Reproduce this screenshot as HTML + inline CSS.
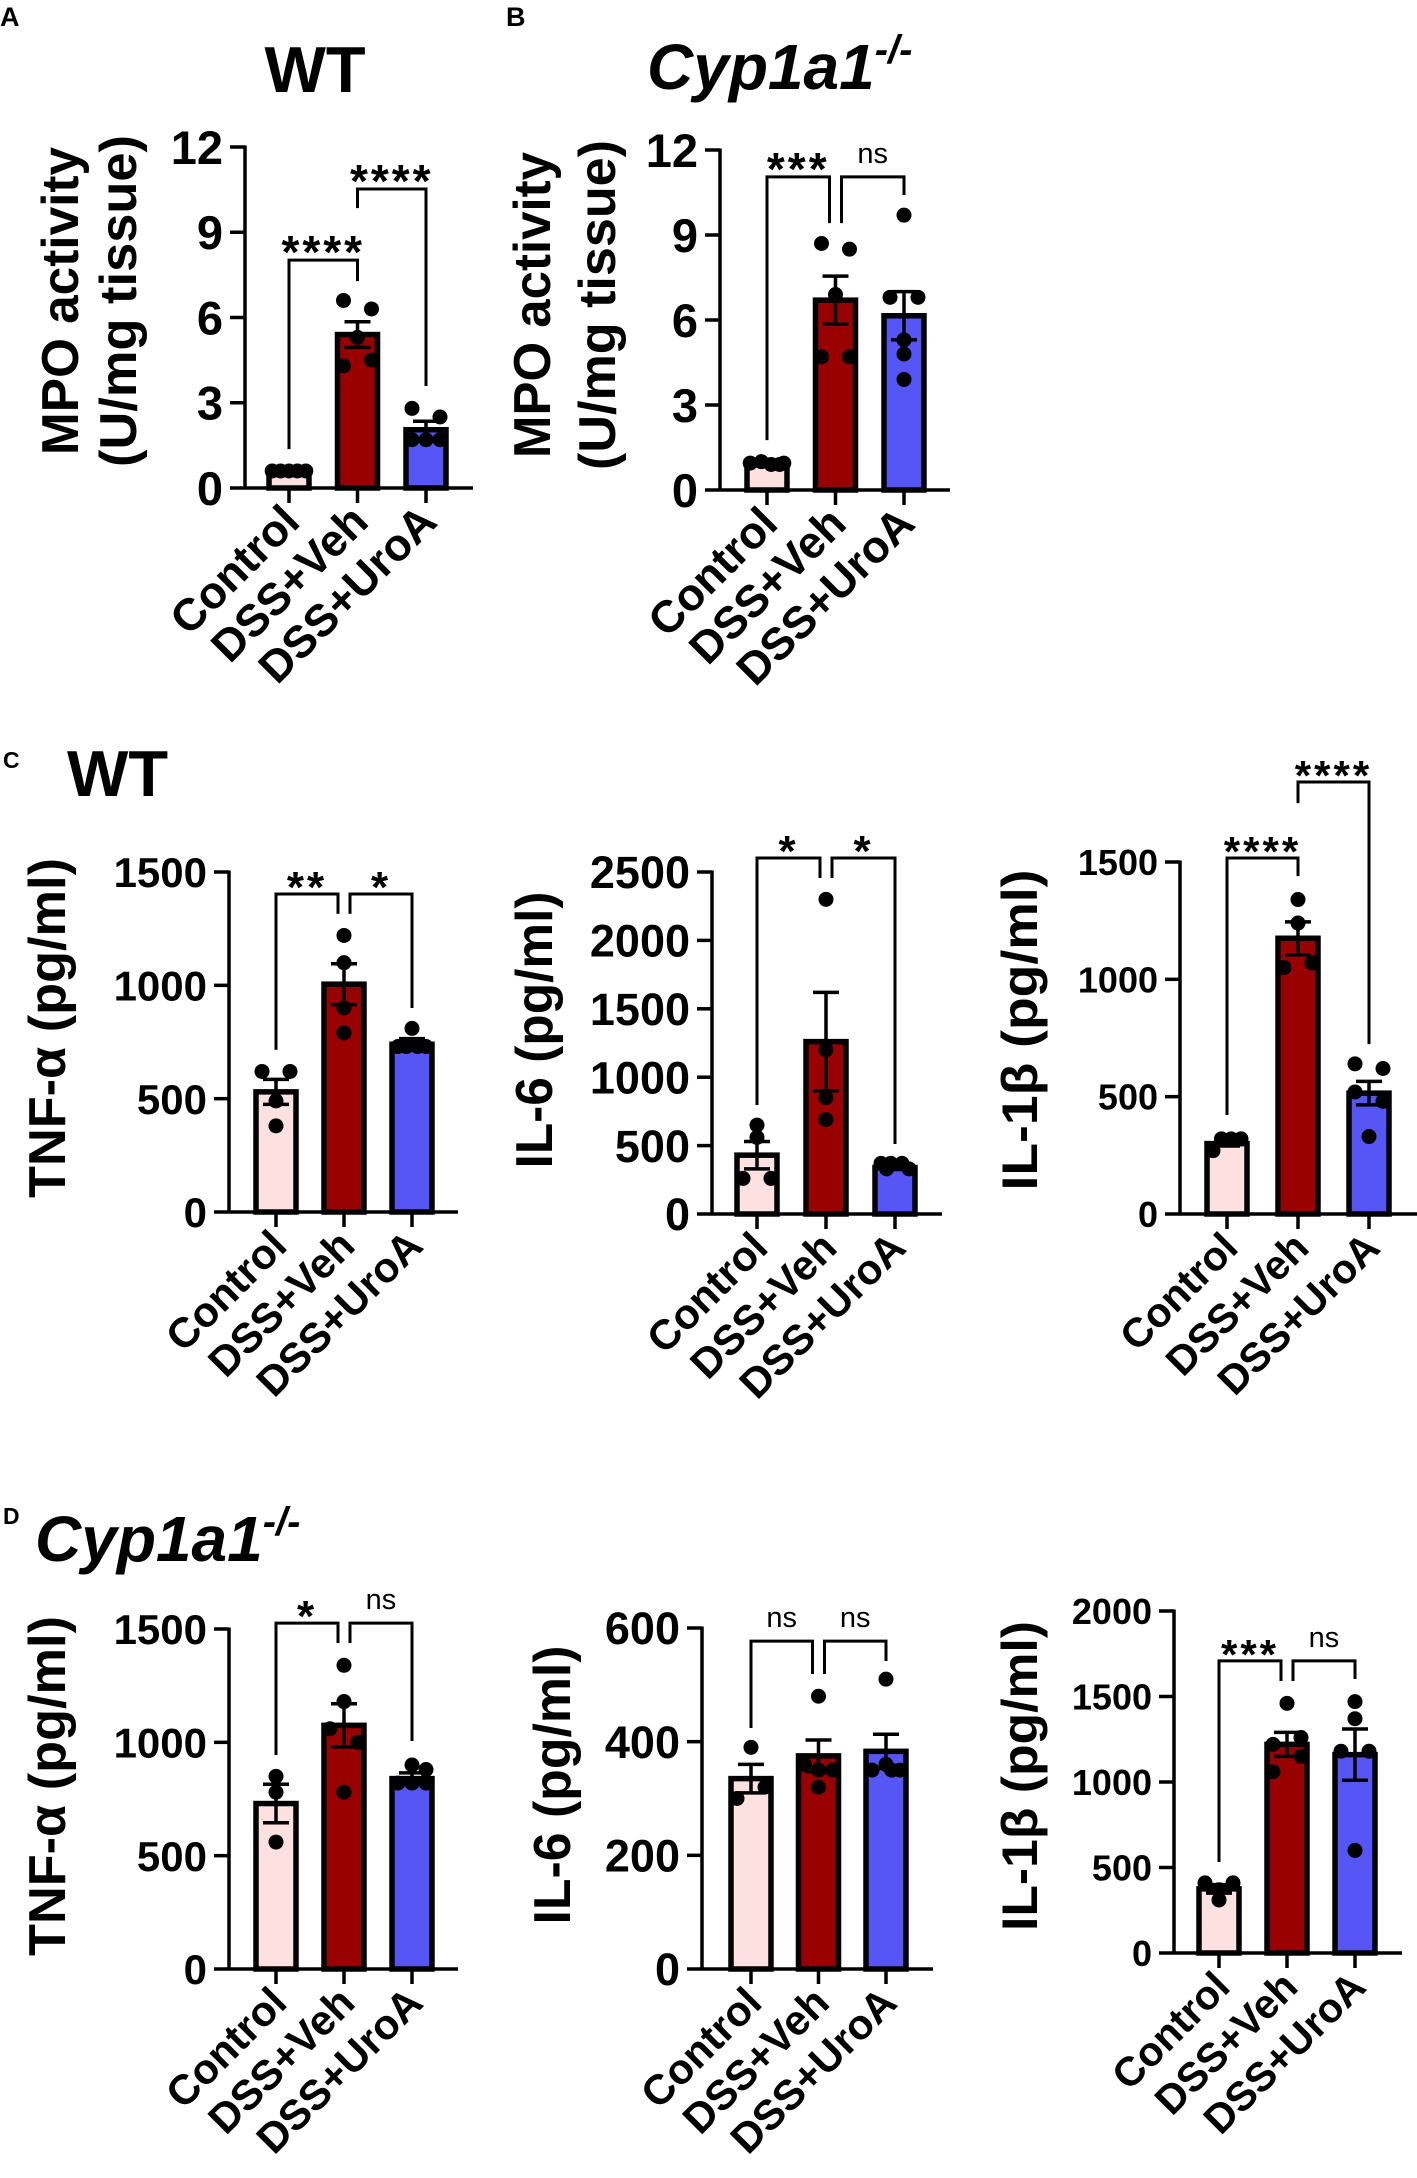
<!DOCTYPE html>
<html><head><meta charset="utf-8"><style>
html,body{margin:0;padding:0;background:#fff}
svg{display:block}
text{font-family:"Liberation Sans",Arial,sans-serif;fill:#000}
</style></head><body>
<svg id="fig" width="1417" height="2178" viewBox="0 0 1417 2178" xmlns="http://www.w3.org/2000/svg">
<text x="0" y="26" font-size="27" font-weight="bold">A</text>
<text x="506" y="26" font-size="27" font-weight="bold">B</text>
<text x="3" y="768" font-size="23" font-weight="bold">C</text>
<text x="3" y="1524" font-size="23" font-weight="bold">D</text>
<text x="315" y="92" font-size="65" font-weight="bold" text-anchor="middle">WT</text>
<text x="647" y="89" font-size="64" font-weight="bold" font-style="italic">Cyp1a1<tspan font-size="40" dy="-26">-/-</tspan></text>
<text x="67" y="796" font-size="65" font-weight="bold">WT</text>
<text x="35" y="1561" font-size="64" font-weight="bold" font-style="italic">Cyp1a1<tspan font-size="40" dy="-26">-/-</tspan></text>
</svg>
<script>
const cats = ["Control", "DSS+Veh", "DSS+UroA"];
const colors = ["#fde0e0", "#990000", "#5656f6"];

// Panel A: WT MPO
const aTicks = [0, 3, 6, 9, 12];
const aMean = [0.6, 5.4, 2.05];
const aSem = [0.05, 0.45, 0.3];
const aDots = [[0.6,0.6,0.6,0.6,0.6],[6.6,6.3,5.3,4.3,4.5],[2.8,2.5,1.7,1.7,1.7]];
const aSide = [[-1.2,-0.6,0,0.6,1.2],[-1,1,0,-1,1],[-1,1,-1,0,1]];
const aSig = [[0,1,8.02,1.37,7.28,"****"],[1,2,10.52,9.85,3.59,"****"]];

// Panel B: Cyp1a1-/- MPO
const bTicks = [0, 3, 6, 9, 12];
const bMean = [0.9, 6.7, 6.15];
const bSem = [0.05, 0.85, 0.85];
const bDots = [[0.95,1.0,0.9,0.9,0.95],[8.7,8.5,6.9,4.7,4.7],[9.7,6.8,6.8,5.3,4.8,3.9]];
const bSide = [[-1.2,-0.4,0.3,0.9,1.2],[-1,1,0,-1,1],[0,-1,1,0,0,0]];
const bSig = [[0,1,11.05,1.76,9.42,"***"],[1,2,11.05,9.42,10.41,"ns"]];

// Panel C1: WT TNF-a
const c1Ticks = [0, 500, 1000, 1500];
const c1Mean = [530, 1005, 740];
const c1Sem = [55, 90, 25];
const c1Dots = [[620,620,490,380],[1220,1100,900,790],[810,730,730,730,730]];
const c1Side = [[-1,1,0,0],[0,0,0,0],[0,-1,-0.4,0.4,1]];
const c1Sig = [[0,1,1403,715,1315,"**"],[1,2,1403,1315,900,"*"]];

// Panel C2: WT IL-6
const c2Ticks = [0, 500, 1000, 1500, 2000, 2500];
const c2Mean = [430, 1260, 340];
const c2Sem = [100, 360, 15];
const c2Dots = [[650,560,260,260],[2300,1200,850,690],[370,370,370,330,330]];
const c2Side = [[0,0,-1,1],[0,0,0,0],[-1,-0.3,0.5,-0.6,1]];
const c2Sig = [[0,1,2602,797,2456,"*"],[1,2,2602,2456,512,"*"]];

// Panel C3: WT IL-1b
const c3Ticks = [0, 500, 1000, 1500];
const c3Mean = [300, 1175, 515];
const c3Sem = [10, 70, 50];
const c3Dots = [[320,320,320,270],[1340,1240,1050,1070],[640,620,520,480,330]];
const c3Side = [[-0.4,0.3,1,-1],[0,0,-1,1],[-1,1,-1,1,0]];
const c3Sig = [[0,1,1517,422,1440,"****"],[1,2,1841,1751,724,"****"]];

// Panel D1: Cyp1a1-/- TNF-a
const d1Ticks = [0, 500, 1000, 1500];
const d1Mean = [730, 1075, 840];
const d1Sem = [85, 95, 25];
const d1Dots = [[850,780,560],[1340,1180,1060,1000,780],[900,880,820,820,820]];
const d1Side = [[0,0,0],[0,0,-1,1,0],[0,1,-1,0,1]];
const d1Sig = [[0,1,1526,944,1438,"*"],[1,2,1526,1438,1006,"ns"]];

// Panel D2: Cyp1a1-/- IL-6
const d2Ticks = [0, 200, 400, 600];
const d2Mean = [335, 375, 383];
const d2Sem = [25, 28, 30];
const d2Dots = [[390,320,300],[480,360,350,350,320],[510,360,350,350,350]];
const d2Side = [[0,1,-1],[0,-1,0,1,0],[0,0,-1,1,0.4]];
const d2Sig = [[0,1,577,424,519,"ns"],[1,2,577,519,542,"ns"]];

// Panel D3: Cyp1a1-/- IL-1b
const d3Ticks = [0, 500, 1000, 1500, 2000];
const d3Mean = [375, 1220, 1160];
const d3Sem = [25, 70, 150];
const d3Dots = [[410,410,370,310],[1460,1260,1220,1150,1060],[1470,1370,1180,1180,600]];
const d3Side = [[-1,1,0,0],[0,1,-1,1,-1],[0,0,-1,1,0]];
const d3Sig = [[0,1,1708,532,1591,"***"],[1,2,1708,1591,1602,"ns"]];

const NS = "http://www.w3.org/2000/svg";
const svg = document.getElementById("fig");
function el(tag, attrs, parent) {
  const e = document.createElementNS(NS, tag);
  for (const k in attrs) e.setAttribute(k, attrs[k]);
  (parent || svg).appendChild(e);
  return e;
}

function draw(id, L, ticks, mean, sem, dots, side, sig) {
  const g = el("g", {});
  
  
  const max = ticks[ticks.length - 1];
  const y = v => L.y0 - (v / max) * (L.y0 - L.yTop);
  const x = i => L.x0 + i * L.step;
  L.titles.forEach((t, k) => {
    const tt = el("text", {x: 0, y: 0, "font-size": L.titleFont, "font-weight": "bold", "text-anchor": "middle",
      transform: "translate(" + t[1] + "," + L.titleY + ") rotate(-90)", textLength: t[2], lengthAdjust: "spacingAndGlyphs"}, g);
    tt.textContent = t[0];
    
    
  });
  mean.forEach((m, i) => {
    const r = el("rect", {x: x(i) - 20, y: y(m), width: 40, height: L.y0 - y(m), fill: colors[i], stroke: "#000", "stroke-width": 5.5}, g);
    
    
  });
  dots.forEach((arr, i) => {
    arr.forEach((v, j) => {
      const c = el("circle", {cx: x(i) + side[i][j] * 14, cy: y(v), r: 7.5, fill: "#000"}, g);
      
      
    });
  });
  mean.forEach((m, i) => {
    const eg = el("g", {stroke: "#000", "stroke-width": 3.5}, g);
    
    
    el("line", {x1: x(i), x2: x(i), y1: y(m - sem[i]), y2: y(m + sem[i])}, eg);
    el("line", {x1: x(i) - 13, x2: x(i) + 13, y1: y(m + sem[i]), y2: y(m + sem[i])}, eg);
    el("line", {x1: x(i) - 13, x2: x(i) + 13, y1: y(m - sem[i]), y2: y(m - sem[i])}, eg);
  });
  const ya = el("g", {stroke: "#000", "stroke-width": 3.5}, g);
  
  
  el("line", {x1: L.ax, x2: L.ax, y1: L.yTop - 1.5, y2: L.y0}, ya);
  ticks.forEach(t => el("line", {x1: L.ax - 15, x2: L.ax, y1: y(t), y2: y(t)}, ya));
  ticks.forEach(t => {
    const tl = el("text", {x: L.ax - 22, y: y(t), dy: "0.36em", "font-size": L.tickFont, "font-weight": "bold", "text-anchor": "end"}, g);
    tl.textContent = t;
    
    
  });
  const xa = el("g", {stroke: "#000", "stroke-width": 3.5}, g);
  
  
  el("line", {x1: L.ax, x2: L.xEnd, y1: L.y0, y2: L.y0}, xa);
  mean.forEach((m, i) => el("line", {x1: x(i), x2: x(i), y1: L.y0, y2: L.y0 + 15}, xa));
  cats.forEach((c, i) => {
    const t = el("text", {x: 0, y: 0, "font-size": L.catFont, "font-weight": "bold", "text-anchor": "end",
      transform: "translate(" + (x(i) + 13) + "," + (L.y0 + 36) + ") rotate(-45)"}, g);
    t.textContent = c;
    
    
  });
  sig.forEach((s, k) => {
    const xl = x(s[0]) + (s[0] === 1 ? L.gap : 0);
    const xr = x(s[1]) - (s[1] === 1 ? L.gap : 0);
    const by = y(s[2]);
    const p = el("path", {d: "M" + xl + "," + y(s[3]) + "V" + by + "H" + xr + "V" + y(s[4]), fill: "none", stroke: "#000", "stroke-width": 3}, g);
    
    
    const isNs = s[5] === "ns";
    const t = el("text", {x: (xl + xr) / 2, y: isNs ? by - 14 : by + 8, "font-size": isNs ? 29 : L.starFont,
      "font-weight": isNs ? "normal" : "bold", "text-anchor": "middle", "letter-spacing": isNs ? 0 : 3}, g);
    t.textContent = s[5];
    
    
  });
}

draw("mpo-wt", {ax:245, y0:488, yTop:147, x0:289, step:68.5, xEnd:473, tickFont:47, catFont:45, gap:0, starFont:46,
  titleFont:52, titleY:301, titles:[["MPO activity",78,308],["(U/mg tissue)",136,332]]}, aTicks, aMean, aSem, aDots, aSide, aSig);
draw("mpo-cyp", {ax:720, y0:490, yTop:150, x0:767, step:68.5, xEnd:950, tickFont:47, catFont:45, gap:6, starFont:46,
  titleFont:52, titleY:305, titles:[["MPO activity",550,306],["(U/mg tissue)",615,330]]}, bTicks, bMean, bSem, bDots, bSide, bSig);
draw("tnf-wt", {ax:229, y0:1212, yTop:872, x0:276, step:68, xEnd:458, tickFont:42, catFont:42, gap:6, starFont:44,
  titleFont:52, titleY:1028, titles:[["TNF-α (pg/ml)",65,340]]}, c1Ticks, c1Mean, c1Sem, c1Dots, c1Side, c1Sig);
draw("il6-wt", {ax:712, y0:1214, yTop:872, x0:757, step:69, xEnd:942, tickFont:45, catFont:42, gap:6, starFont:44,
  titleFont:52, titleY:1030, titles:[["IL-6 (pg/ml)",552,277]]}, c2Ticks, c2Mean, c2Sem, c2Dots, c2Side, c2Sig);
draw("il1b-wt", {ax:1180, y0:1214, yTop:862, x0:1227, step:71, xEnd:1417, tickFont:36, catFont:41, gap:0, starFont:42,
  titleFont:50, titleY:1030, titles:[["IL-1β (pg/ml)",1037,321]]}, c3Ticks, c3Mean, c3Sem, c3Dots, c3Side, c3Sig);
draw("tnf-cyp", {ax:229, y0:1969, yTop:1629, x0:276, step:68, xEnd:458, tickFont:42, catFont:42, gap:6, starFont:44,
  titleFont:52, titleY:1786, titles:[["TNF-α (pg/ml)",65,340]]}, d1Ticks, d1Mean, d1Sem, d1Dots, d1Side, d1Sig);
draw("il6-cyp", {ax:702, y0:1969, yTop:1628, x0:751, step:67.5, xEnd:933, tickFont:45, catFont:42, gap:6, starFont:44,
  titleFont:52, titleY:1785, titles:[["IL-6 (pg/ml)",570,279]]}, d2Ticks, d2Mean, d2Sem, d2Dots, d2Side, d2Sig);
draw("il1b-cyp", {ax:1174, y0:1953, yTop:1611, x0:1219, step:68, xEnd:1402, tickFont:36, catFont:41, gap:6, starFont:42,
  titleFont:50, titleY:1776, titles:[["IL-1β (pg/ml)",1037,310]]}, d3Ticks, d3Mean, d3Sem, d3Dots, d3Side, d3Sig);
</script>
</body></html>
